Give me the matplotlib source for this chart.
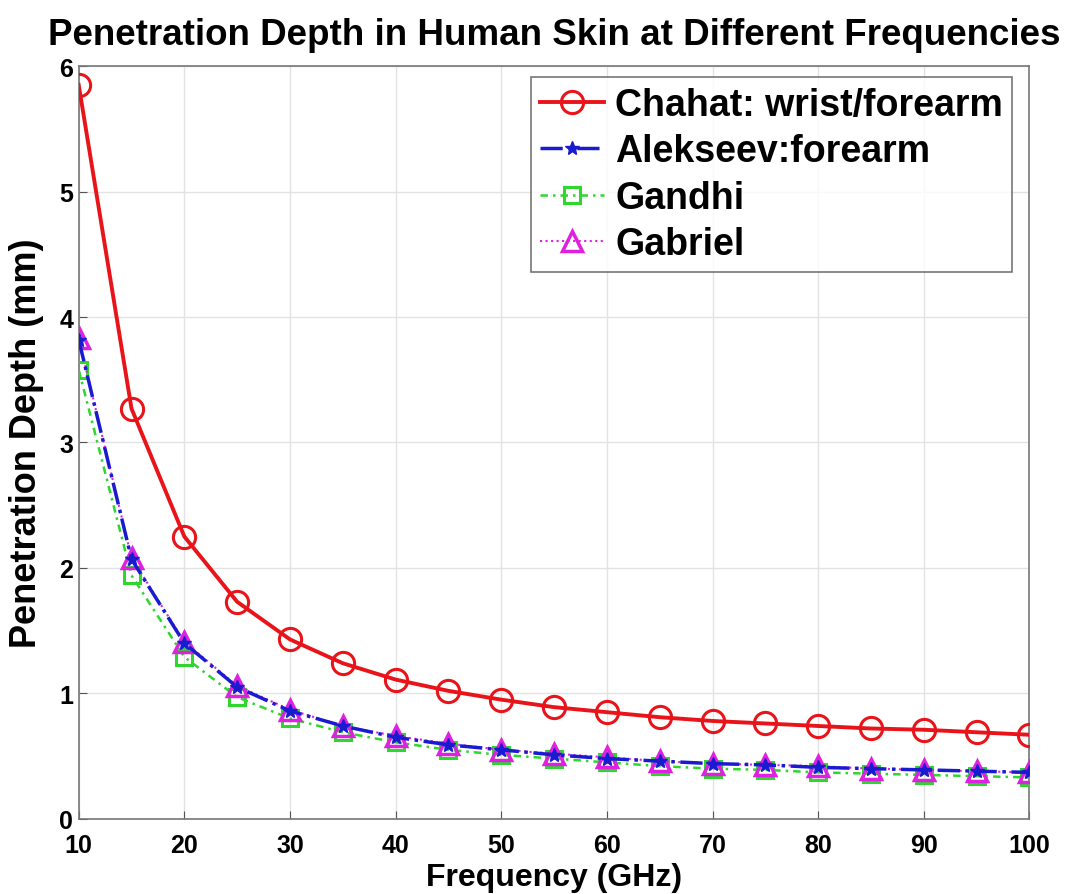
import numpy as np
import matplotlib
matplotlib.use("Agg")
import matplotlib.pyplot as plt

freq = [10, 15, 20, 25, 30, 35, 40, 45, 50, 55, 60, 65, 70, 75, 80, 85, 90, 95, 100]
chahat = [5.85, 3.27, 2.25, 1.73, 1.43, 1.24, 1.11, 1.02, 0.95, 0.89, 0.85, 0.81,
          0.78, 0.76, 0.74, 0.72, 0.71, 0.69, 0.67]
alekseev = [3.82, 2.07, 1.40, 1.05, 0.86, 0.74, 0.65, 0.59, 0.55, 0.51, 0.48, 0.46,
            0.44, 0.43, 0.41, 0.40, 0.39, 0.38, 0.37]
gandhi = [3.58, 1.94, 1.29, 0.97, 0.80, 0.69, 0.61, 0.55, 0.51, 0.48, 0.45, 0.42,
          0.40, 0.39, 0.37, 0.36, 0.35, 0.34, 0.33]
gabriel = [3.83, 2.08, 1.41, 1.06, 0.87, 0.74, 0.66, 0.60, 0.55, 0.52, 0.49, 0.46,
           0.44, 0.43, 0.42, 0.40, 0.39, 0.38, 0.37]

plt.rcParams['font.family'] = ['Liberation Sans', 'DejaVu Sans']
plt.rcParams['font.weight'] = 'bold'

fig = plt.figure(figsize=(10.78, 8.95), dpi=100)
ax = fig.add_axes([0.073, 0.084, 0.882, 0.841])

ax.plot(freq, chahat, color='#e8141a', lw=2.8, marker='o', ms=16, mfc='none',
        mew=2.2, label='Chahat: wrist/forearm', zorder=4)
ax.plot(freq, alekseev, color='#1a1ad0', lw=2.5, ls='-.', marker='*', ms=10,
        label='Alekseev:forearm', zorder=5)
ax.plot(freq, gandhi, color='#2ed62e', lw=1.8, ls=(0, (3, 2, 1, 2)), marker='s', ms=12,
        mfc='none', mew=2.2, label='Gandhi', zorder=3)
ax.plot(freq, gabriel, color='#e020e0', lw=1.5, ls=':', marker='^', ms=15, mfc='none',
        mew=2.5, label='Gabriel', zorder=4)

ax.set_xlim(10, 100)
ax.set_ylim(0, 6)
ax.set_xticks(np.arange(10, 101, 10))
ax.set_yticks(np.arange(0, 7, 1))
ax.grid(True, color='#e2e2e2', lw=1)
ax.tick_params(direction='in', labelsize=18, length=6, color='#555555', pad=4)
ax.tick_params(axis='x', pad=10)
for s in ax.spines.values():
    s.set_color('#777777')
    s.set_linewidth(1.2)

ax.set_xlabel('Frequency (GHz)', fontsize=23, fontweight='bold', labelpad=4)
ax.set_ylabel('Penetration Depth (mm)', fontsize=26, fontweight='bold')
ax.yaxis.set_label_coords(-0.036, 0.5)
ax.set_title('Penetration Depth in Human Skin at Different Frequencies', fontsize=26.5,
             fontweight='bold', pad=16)

leg = ax.legend(loc='upper right', bbox_to_anchor=(0.982, 0.985), fontsize=27,
                frameon=True, fancybox=False, edgecolor='#555555', handlelength=1.7,
                handletextpad=0.3, borderpad=0.25, labelspacing=0.28, borderaxespad=0)
leg.get_frame().set_linewidth(1.2)

fig.savefig('out.png', dpi=100)
